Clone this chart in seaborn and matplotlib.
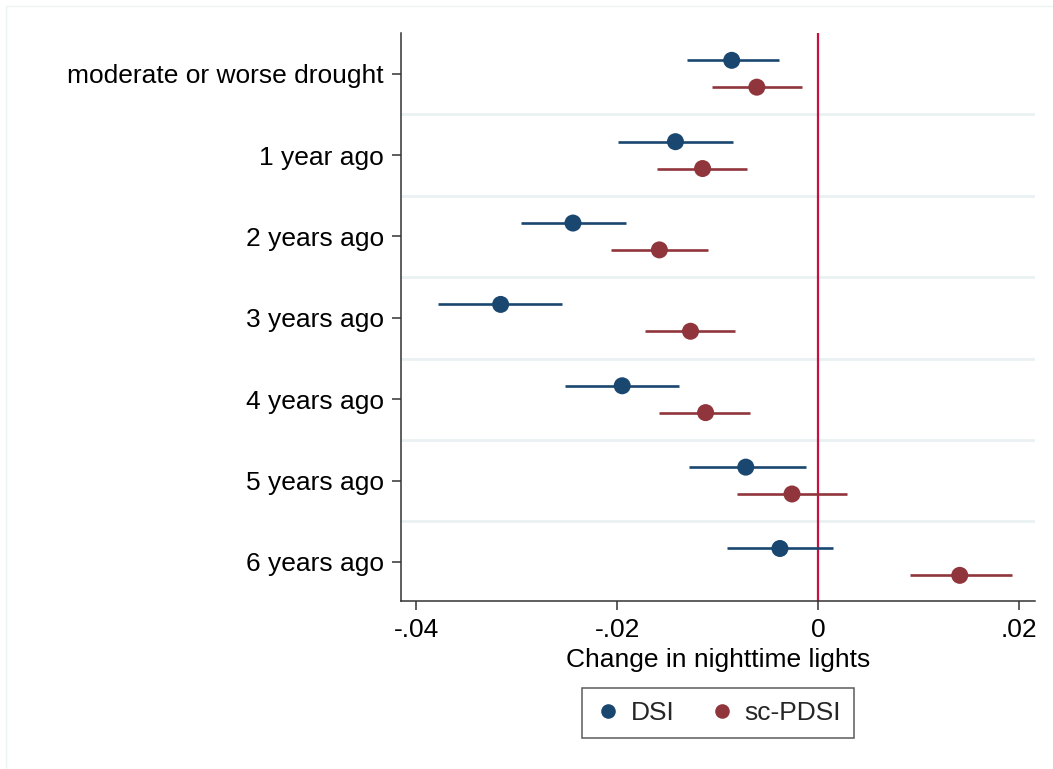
import matplotlib
matplotlib.use("Agg")
import matplotlib.pyplot as plt
import seaborn as sns
import pandas as pd
import numpy as np
from matplotlib.lines import Line2D

categories = ["moderate or worse drought", "1 year ago", "2 years ago", "3 years ago",
              "4 years ago", "5 years ago", "6 years ago"]
series = ["DSI", "sc-PDSI"]

dsi_est = [-0.0086, -0.0142, -0.0244, -0.0316, -0.0195, -0.0072, -0.0038]
dsi_lo = [-0.0131, -0.0199, -0.0296, -0.0378, -0.0252, -0.0129, -0.0091]
dsi_hi = [-0.0039, -0.0085, -0.0191, -0.0255, -0.0138, -0.0012, 0.0015]

pdsi_est = [-0.0061, -0.0115, -0.0158, -0.0127, -0.0112, -0.0026, 0.0141]
pdsi_lo = [-0.0106, -0.0160, -0.0206, -0.0172, -0.0158, -0.0081, 0.0091]
pdsi_hi = [-0.0016, -0.0071, -0.0110, -0.0083, -0.0068, 0.0029, 0.0193]

xticks = [-0.04, -0.02, 0, 0.02]
xticklabels = ["-.04", "-.02", "0", ".02"]

colors = {"DSI": "#1a476f", "sc-PDSI": "#90353b"}
offsets = {"DSI": -0.165, "sc-PDSI": 0.165}

rows = []
for s, est, lo, hi in [("DSI", dsi_est, dsi_lo, dsi_hi), ("sc-PDSI", pdsi_est, pdsi_lo, pdsi_hi)]:
    for i, c in enumerate(categories):
        rows.append({"series": s, "category": c, "pos": i + offsets[s],
                     "est": est[i], "lo": lo[i], "hi": hi[i]})
df = pd.DataFrame(rows)

sns.set_theme(style="white")
plt.rcParams["font.family"] = ["Liberation Sans", "DejaVu Sans"]

fig = plt.figure(figsize=(10.53, 7.69), dpi=100)
fig.patch.set_facecolor("white")
ax = fig.add_axes([0.381, 0.2185, 0.983 - 0.381, 0.957 - 0.2185])

# gridlines between categories
for y in np.arange(0.5, len(categories) - 0.5, 1.0):
    ax.axhline(y, color="#eaf1f3", lw=2, zorder=0)

ax.axvline(0, color="#c8103e", lw=1.6, zorder=1)

for s in series:
    sub = df[df["series"] == s]
    ax.hlines(sub["pos"], sub["lo"], sub["hi"], color=colors[s], lw=1.9, zorder=2)

sns.scatterplot(data=df, x="est", y="pos", hue="series", palette=colors,
                s=150, edgecolor="none", ax=ax, zorder=3, legend=False)

ax.set_xlim(-0.0415, 0.0216)
ax.set_ylim(6.48, -0.5)
ax.set_yticks(range(len(categories)))
ax.set_yticklabels(categories)
ax.set_xticks(xticks)
ax.set_xticklabels(xticklabels)
ax.tick_params(axis="both", which="major", length=6.5, width=1.1, color="#333333",
               labelsize=19, labelcolor="black", direction="out")
ax.tick_params(axis="y", pad=6)
ax.tick_params(axis="x", pad=6)
ax.tick_params(left=True, bottom=True)
ax.set_xlabel("Change in nighttime lights", fontsize=19, color="black", labelpad=4)
ax.set_ylabel("")

for side in ["top", "right"]:
    ax.spines[side].set_visible(False)
for side in ["left", "bottom"]:
    ax.spines[side].set_color("#333333")
    ax.spines[side].set_linewidth(1.1)

handles = [Line2D([], [], marker="o", linestyle="none", markersize=10.5,
                  markerfacecolor=colors[s], markeredgecolor="none", label=s) for s in series]
leg = ax.legend(handles=handles, loc="upper center", bbox_to_anchor=(0.5, -0.153),
                ncol=2, frameon=True, fancybox=False, fontsize=19, borderaxespad=0,
                handletextpad=0.35, columnspacing=1.3, borderpad=0.5, handlelength=1.0)
leg.get_frame().set_edgecolor("#333333")
leg.get_frame().set_linewidth(1.1)

# faint outer frame (top and left)
fig.add_artist(Line2D([6 / 1053, 6 / 1053], [0, 1 - 6 / 769], transform=fig.transFigure,
                      color="#edf2f4", lw=1))
fig.add_artist(Line2D([6 / 1053, 1], [1 - 6 / 769, 1 - 6 / 769], transform=fig.transFigure,
                      color="#edf2f4", lw=1))

fig.savefig("out.png", dpi=100, facecolor="white")
